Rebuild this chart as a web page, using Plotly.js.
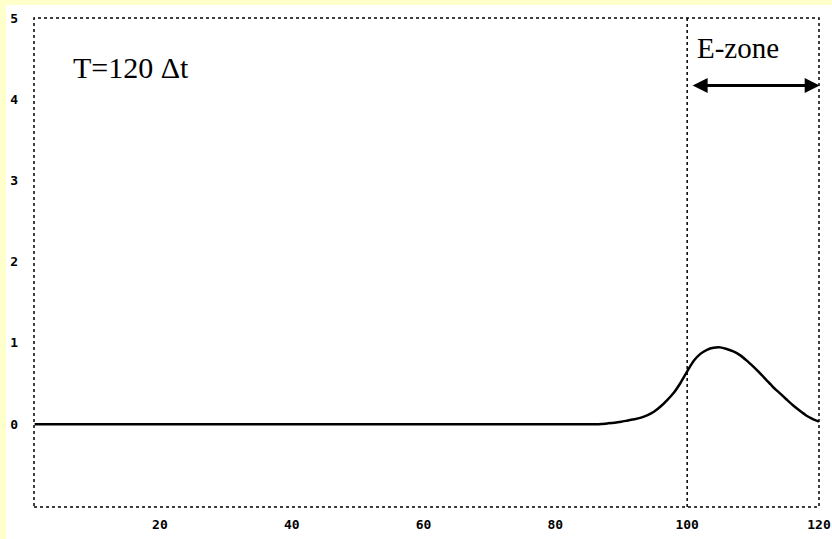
<!DOCTYPE html>
<html>
<head>
<meta charset="utf-8">
<script src="https://cdn.plot.ly/plotly-3.0.1.min.js"></script>
<style>html,body{margin:0;padding:0;background:#fff;}#chart{width:832px;height:539px;}</style>
</head>
<body>
<div id="chart"></div>
<script>
// Data (time step T = 120 Δt)
const xValues = [1, 20, 40, 60, 80, 86, 87, 88, 89, 90, 91, 92, 93, 94, 95, 96, 97, 98, 99, 100, 101, 102, 103, 104, 105, 106, 107, 108, 109, 110, 111, 112, 113, 114, 115, 116, 117, 118, 119, 120];
const yValues = [0, 0, 0, 0, 0, 0, 0.003, 0.01, 0.018, 0.03, 0.045, 0.06, 0.08, 0.11, 0.155, 0.22, 0.30, 0.39, 0.51, 0.65, 0.78, 0.865, 0.915, 0.94, 0.945, 0.925, 0.895, 0.85, 0.785, 0.71, 0.63, 0.545, 0.46, 0.385, 0.31, 0.235, 0.17, 0.11, 0.065, 0.03];
const xTicks = [20, 40, 60, 80, 100, 120];
const yTicks = [0, 1, 2, 3, 4, 5];
const zoneStart = 100;
const zoneEnd = 120;
const timeLabel = "T=120 Δt";
const zoneLabel = "E-zone";

const trace = {
  x: xValues, y: yValues, type: 'scatter', mode: 'lines',
  line: {color: '#000', width: 2.5, shape: 'spline', smoothing: 0.6},
  hoverinfo: 'skip'
};

const tickFont = {family: 'DejaVu Sans Mono', size: 13, color: '#000', weight: 'bold'};

const layout = {
  width: 832, height: 539,
  paper_bgcolor: '#fff', plot_bgcolor: '#fff',
  margin: {l: 34, r: 13, t: 18, b: 32},
  showlegend: false,
  xaxis: {range: [0.9, 120], tickvals: xTicks, ticktext: xTicks.map(String), showgrid: false, zeroline: false, showline: false, ticks: '', tickfont: tickFont, ticklabelstandoff: 8},
  yaxis: {range: [-1.02, 5.0], tickvals: yTicks, ticktext: yTicks.map(String), showgrid: false, zeroline: false, showline: false, ticks: '', tickfont: tickFont, ticklabelstandoff: 15},
  shapes: [
    {type: 'rect', xref: 'paper', yref: 'paper', x0: -34/785, x1: -28/785, y0: -32/489, y1: 1 + 18/489, fillcolor: '#FFFFCC', line: {width: 0}, layer: 'below'},
    {type: 'rect', xref: 'paper', yref: 'paper', x0: -34/785, x1: 1 + 13/785, y0: 1 + 13/489, y1: 1 + 18/489, fillcolor: '#FFFFCC', line: {width: 0}, layer: 'below'},
    {type: 'rect', xref: 'paper', yref: 'paper', x0: 0, x1: 1, y0: 0, y1: 1, line: {color: '#000', width: 1.5, dash: 'dot'}},
    {type: 'line', xref: 'x', yref: 'paper', x0: zoneStart, x1: zoneStart, y0: 0, y1: 1, line: {color: '#000', width: 1.5, dash: 'dot'}}
  ],
  annotations: [
    {text: timeLabel, xref: 'x', yref: 'y', x: 6.5, y: 4.39, xanchor: 'left', yanchor: 'middle', showarrow: false, font: {family: 'Liberation Serif', size: 30, color: '#000'}},
    {text: zoneLabel, xref: 'x', yref: 'y', x: 101.2, y: 4.63, xanchor: 'left', yanchor: 'middle', showarrow: false, font: {family: 'Liberation Serif', size: 29, color: '#000'}},
    {text: '', xref: 'x', yref: 'y', axref: 'x', ayref: 'y', x: zoneEnd + 0.1, y: 4.17, ax: zoneStart + 0.6, ay: 4.17, showarrow: true, arrowhead: 2, startarrowhead: 2, arrowside: 'end+start', arrowsize: 1, startarrowsize: 1, arrowwidth: 3, arrowcolor: '#000', standoff: 0, startstandoff: 0}
  ]
};

Plotly.newPlot('chart', [trace], layout, {displayModeBar: false, staticPlot: true});
</script>
</body>
</html>
